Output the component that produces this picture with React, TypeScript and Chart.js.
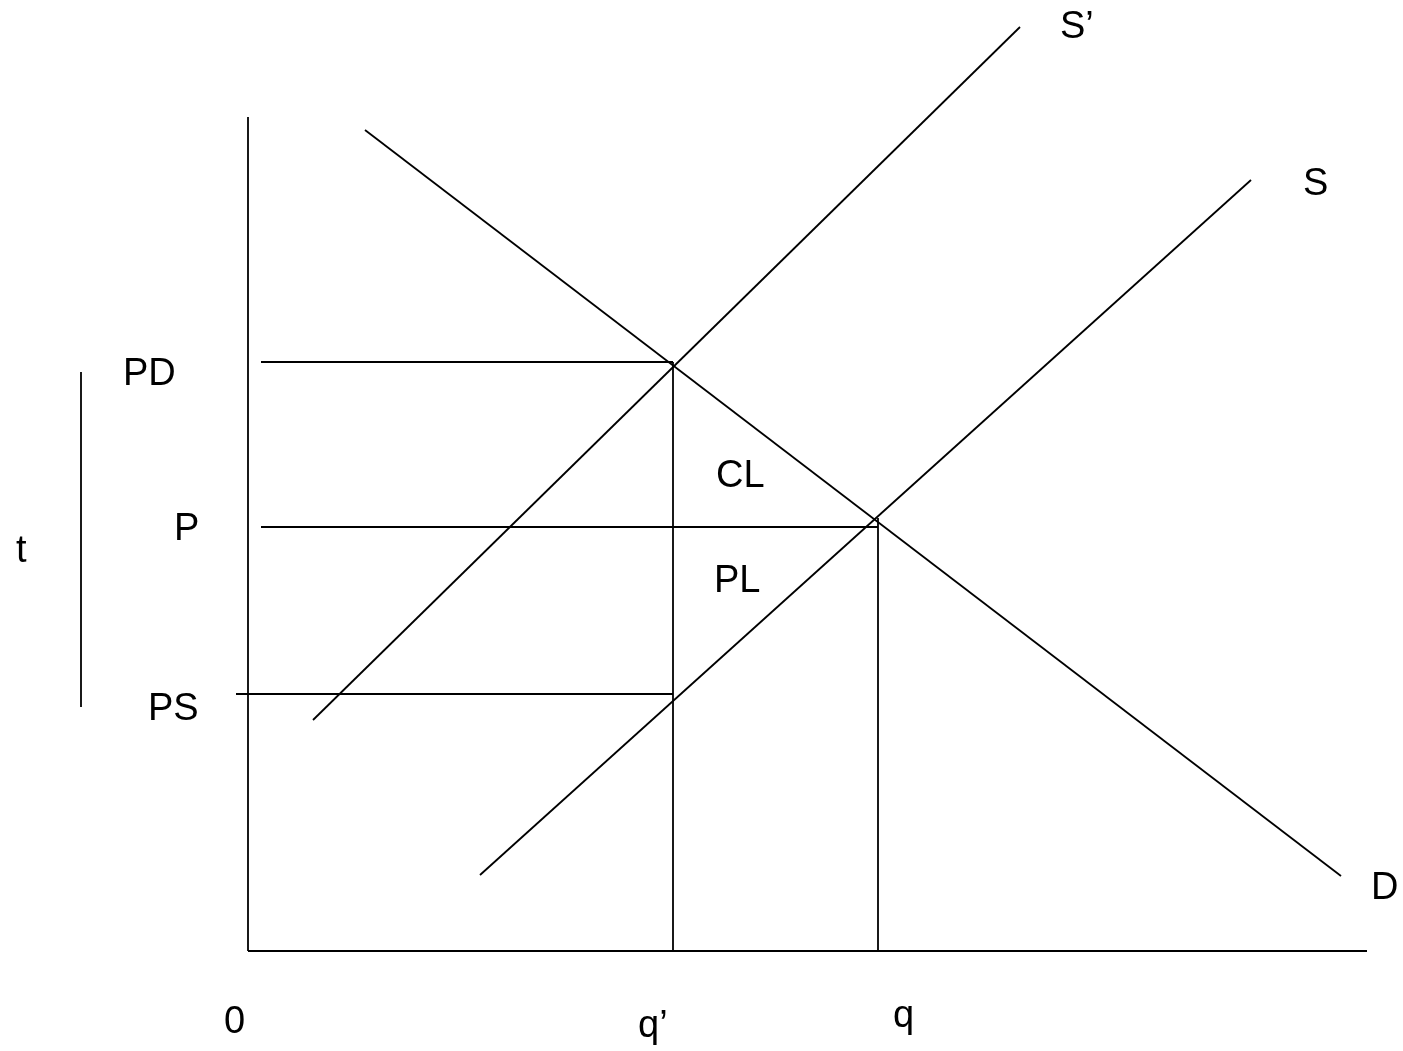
import React, { useEffect, useRef } from "react";
import { Chart, registerables } from "chart.js";

Chart.register(...registerables);

// Coordinates are quantities (x) and prices (y) measured from the origin.
const demandD = [ { x: 117, y: 821 }, { x: 1093, y: 75 } ];
const supplyS = [ { x: 232, y: 76 }, { x: 1003, y: 771 } ];
const supplySPrime = [ { x: 65, y: 231 }, { x: 772, y: 924 } ];
const pricePD = [ { x: 13, y: 589 }, { x: 425, y: 589 } ];
const priceP = [ { x: 13, y: 424 }, { x: 630, y: 424 } ];
const pricePS = [ { x: -12, y: 257 }, { x: 425, y: 257 } ];
const qtyQPrime = [ { x: 425, y: 0 }, { x: 425, y: 589 } ];
const qtyQ = [ { x: 630, y: 0 }, { x: 630, y: 433 } ];
const axisY = [ { x: 0, y: 0 }, { x: 0, y: 834 } ];
const axisX = [ { x: 0, y: 0 }, { x: 1119, y: 0 } ];
const taxBar = [ { x: -167, y: 244 }, { x: -167, y: 579 } ];

const labelTexts = ["S\u2019", "S", "D", "PD", "P", "PS", "t", "CL", "PL", "0", "q\u2019", "q"];
const labelX = [812, 1055, 1123, -125, -74, -100, -232, 468, 466, -24, 390, 645];
const labelY = [913, 756, 52, 566, 411, 231, 389, 464, 359, -82, -86, -76];

const X_MIN = -248;
const X_MAX = 1155;
const Y_MIN = -100;
const Y_MAX = 951;

const textPlugin = {
  id: "diagramText",
  afterDatasetsDraw(chart: any) {
    const { ctx, scales } = chart;
    ctx.save();
    ctx.fillStyle = "#000";
    ctx.font = '38px "Liberation Sans", Arial, sans-serif';
    ctx.textAlign = "left";
    ctx.textBaseline = "alphabetic";
    labelTexts.forEach((t, i) => {
      ctx.fillText(t, scales.x.getPixelForValue(labelX[i]), scales.y.getPixelForValue(labelY[i]));
    });
    ctx.restore();
  },
};

export default function App() {
  const ref = useRef<HTMLCanvasElement | null>(null);
  useEffect(() => {
    if (!ref.current) return;
    const series = [demandD, supplyS, supplySPrime, pricePD, priceP, pricePS, qtyQPrime, qtyQ, axisY, axisX, taxBar];
    const chart = new Chart(ref.current, {
      type: "scatter",
      data: {
        datasets: series.map((d) => ({
          data: d,
          showLine: true,
          borderColor: "#000",
          backgroundColor: "#000",
          borderWidth: 1.8,
          pointRadius: 0,
          pointHoverRadius: 0,
          fill: false,
        })),
      },
      options: {
        animation: false,
        responsive: false,
        maintainAspectRatio: false,
        layout: { padding: 0 },
        plugins: { legend: { display: false }, tooltip: { enabled: false } },
        events: [],
        scales: {
          x: { type: "linear", min: X_MIN, max: X_MAX, display: false },
          y: { type: "linear", min: Y_MIN, max: Y_MAX, display: false },
        },
      },
      plugins: [textPlugin],
    });
    return () => chart.destroy();
  }, []);
  return (
    <div style={{ position: "absolute", left: 0, top: 0, width: 1403, height: 1051, background: "#fff" }}>
      <canvas ref={ref} width={1403} height={1051} style={{ display: "block" }} />
    </div>
  );
}
